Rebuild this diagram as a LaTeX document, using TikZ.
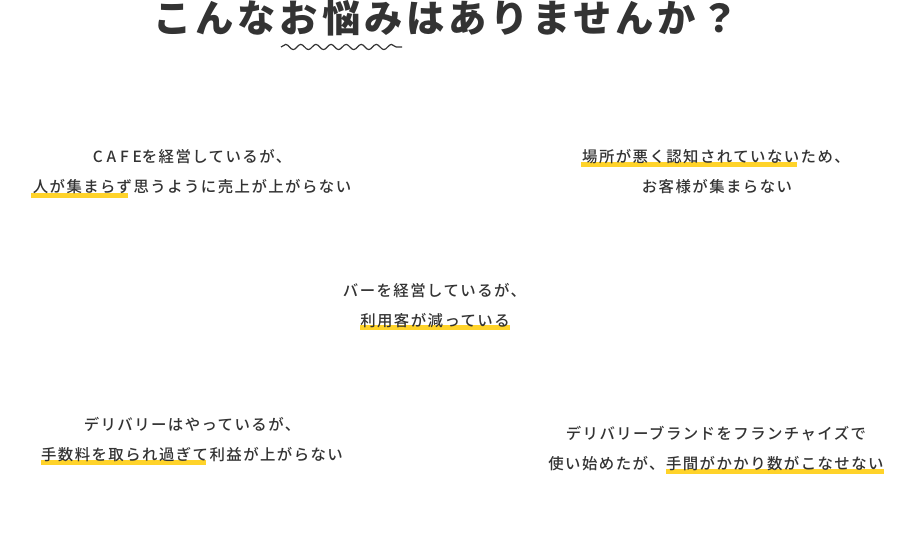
\documentclass[tikz,border=0pt]{standalone}
\usepackage{fontspec}
\newfontfamily\jpbody[LetterSpace=9.4]{Noto Sans CJK JP Medium}
\newfontfamily\jptitle[LetterSpace=10]{Noto Sans CJK JP}
\usetikzlibrary{positioning, decorations.pathmorphing}
\definecolor{ink}{HTML}{333333}
\definecolor{marker}{HTML}{FFD32A}
\begin{document}
\begin{tikzpicture}[
     x=1pt, y=-1pt,
     node distance = 30pt,
        txt/.style = {text=ink, inner sep=0pt, anchor=center,
                     font=\jpbody\fontsize{15.4}{16}\selectfont},
        bar/.style = {rectangle, draw=none, fill=marker, inner sep=0pt,
                     minimum width=#1, minimum height=4.6pt},
       wave/.style = {draw=ink, line width=1.2pt,
                     decorate, decoration={snake, segment length=15.1pt, amplitude=2.6pt}}
                        ]
\useasboundingbox (0,0) rectangle (911,540);
% markers
\node (barcafe) [bar=97pt] at (79.5,195.3) {};
\node (barplace) [bar=216pt] at (689,164.5) {};
\node (barbar) [bar=150pt] at (435,327.5) {};
\node (bardeli) [bar=165pt] at (123.5,462.5) {};
\node (barbrand) [bar=218pt] at (775,471.5) {};
% heading
\node (title) [text=ink, inner sep=0pt, font=\jptitle\bfseries\fontsize{38.3}{40}\selectfont] at (446,18) {こんなお悩みはありませんか？};
\coordinate (wavel) at (281,47);
\coordinate (waver) at (402,47);
\draw[wave] (wavel) -- (waver);
% blocks
\node (cafea) [txt] at (192,157) {{\addfontfeature{LetterSpace=25}CAFE}を経営しているが、};
\node (cafeb) [txt] at (192,187) {人が集まらず思うように売上が上がらない};
\node (placea) [txt] at (716,157) {場所が悪く認知されていないため、};
\node (placeb) [txt] at (717,187) {お客様が集まらない};
\node (bara) [txt] at (434.5,291) {バーを経営しているが、};
\node (barb) [txt] at (435,321) {利用客が減っている};
\node (delia) [txt] at (192,424) {デリバリーはやっているが、};
\node (delib) [txt] at (192,455) {手数料を取られ過ぎて利益が上がらない};
\node (branda) [txt] at (716,433.5) {デリバリーブランドをフランチャイズで};
\node (brandb) [txt] at (716,464) {使い始めたが、手間がかかり数がこなせない};
\end{tikzpicture}
\end{document}
